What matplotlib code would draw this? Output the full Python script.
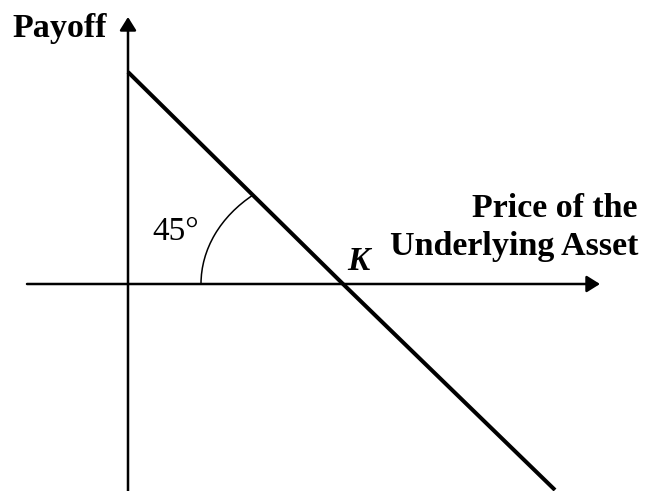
import matplotlib
matplotlib.use("Agg")
import matplotlib.pyplot as plt
from matplotlib.patches import Arc

plt.rcParams['font.family'] = ['Liberation Serif', 'DejaVu Serif']

# payoff of a short forward (diagram units)
K = 215
price = [0, K, 427]
payoff = [212, 0, -206]

# axes extents
x_axis = [-101, 472]
y_axis = [-207, 267]
angle_label = "45°"

fig = plt.figure(figsize=(6.47, 4.91), dpi=100)
ax = fig.add_axes([0, 0, 1, 1])
ax.set_xlim(-128, 519)
ax.set_ylim(-207, 284)
ax.axis('off')

arrow = dict(arrowstyle='-|>,head_length=0.8,head_width=0.5', color='black',
             lw=1.8, shrinkA=0, shrinkB=0)
ax.annotate('', xy=(x_axis[1], 0), xytext=(x_axis[0], 0), arrowprops=arrow)
ax.annotate('', xy=(0, y_axis[1]), xytext=(0, y_axis[0]), arrowprops=arrow)

ax.plot(price, payoff, color='black', lw=2.9, solid_capstyle='butt')

# 45 degree marker
ax.add_patch(Arc((K, 0), 284, 230, theta1=135, theta2=180, color='black', lw=1.1))

ax.text(-116, 247, 'Payoff', fontsize=24.5, fontweight='bold', va='baseline', ha='left')
ax.text(509, 67, 'Price of the', fontsize=24.5, fontweight='bold', va='baseline', ha='right')
ax.text(510, 29, 'Underlying Asset', fontsize=24.5, fontweight='bold', va='baseline', ha='right')
ax.text(24, 44, angle_label, fontsize=24, va='baseline', ha='left')
ax.text(219, 14, 'K', fontsize=24, fontweight='bold', fontstyle='italic', va='baseline', ha='left')

fig.savefig('out.png', dpi=100)
